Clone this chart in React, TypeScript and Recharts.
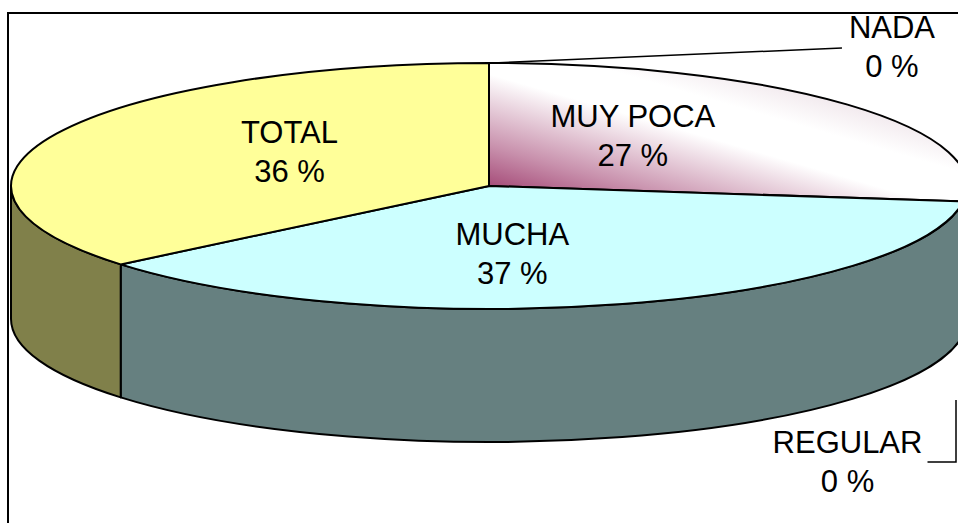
import { PieChart, Pie } from "recharts";

const CATEGORIES = ["NADA", "MUY POCA", "REGULAR", "MUCHA", "TOTAL"];
const VALUES = [0, 27, 0, 37, 36];

const TOP_COLORS = ["#993366", "url(#muyPocaGrad)", "#8080c0", "#ccffff", "#ffff99"];
const SIDE_COLORS = ["#4d1a33", "#6b2347", "#404060", "#668080", "#80804a"];

const W = 958;
const H = 523;
const CX = 489;
const CY = 186;
const RX = 478;
const TILT = 123 / 478; // ry / rx
const DEPTH = 133;
const RAD = Math.PI / 180;
const FONT = "'Liberation Sans', Arial, sans-serif";

const data = CATEGORIES.map((name, i) => ({ name, value: VALUES[i] }));

function colorIndex(props: any) {
  const name = props.payload?.name ?? props.name;
  return Math.max(0, CATEGORIES.indexOf(name));
}

function Slice3D(props: any) {
  const { cx, cy, outerRadius, startAngle, endAngle } = props;
  if (Math.abs(startAngle - endAngle) < 1e-6) return <g />;
  const i = colorIndex(props);
  const rx = outerRadius;
  const ry = outerRadius * TILT;
  const pt = (a: number, dy = 0) => `${cx + rx * Math.cos(a * RAD)},${cy - ry * Math.sin(a * RAD) + dy}`;
  const s = Math.max(startAngle, endAngle);
  const e = Math.min(startAngle, endAngle);
  const large = s - e > 180 ? 1 : 0;
  const top = `M${cx},${cy} L${pt(s)} A${rx},${ry} 0 ${large} 1 ${pt(e)} Z`;

  // front (visible) part of the outer wall lies between 0 and -180 degrees
  const a1 = Math.min(s, 0);
  const a2 = Math.max(e, -180);
  const side =
    a1 > a2
      ? `M${pt(a1)} A${rx},${ry} 0 0 1 ${pt(a2)} L${pt(a2, DEPTH)} A${rx},${ry} 0 0 0 ${pt(a1, DEPTH)} Z`
      : null;

  return (
    <g>
      <defs>
        <linearGradient id="muyPocaGrad" x1="0" y1="1" x2="1" y2="0">
          <stop offset="0" stopColor="#993366" />
          <stop offset="0.2" stopColor="#c890ac" />
          <stop offset="0.46" stopColor="#ffffff" />
          <stop offset="0.6" stopColor="#ffffff" />
          <stop offset="1" stopColor="#d6bcc9" />
        </linearGradient>
      </defs>
      {side && <path d={side} fill={SIDE_COLORS[i]} stroke="#000" strokeWidth={2} strokeLinejoin="round" />}
      <path d={top} fill={TOP_COLORS[i]} stroke="#000" strokeWidth={2} strokeLinejoin="round" />
    </g>
  );
}

function renderLabel(props: any) {
  const { cx, cy, midAngle, outerRadius, value } = props;
  const name = props.payload?.name ?? props.name;
  const rx = outerRadius;
  const ry = outerRadius * TILT;
  const c = Math.cos(midAngle * RAD);
  const s = Math.sin(midAngle * RAD);
  let lx: number;
  let ly: number;
  let leader: string | null = null;
  if (value > 0) {
    lx = cx + 0.52 * rx * c * Math.abs(c) + 4;
    ly = cy - ry * s * (0.75 - 0.19 * Math.abs(s));
  } else if (s > 0) {
    // outside label above the pie
    lx = cx + 0.843 * rx;
    ly = cy - ry - 17;
    const px = cx + rx * c;
    const py = cy - ry * s;
    leader = `M${lx - 50},${ly + 2} L${px + 4},${py}`;
  } else {
    // outside label below the pie
    lx = cx + 0.75 * rx;
    ly = cy + ry + DEPTH + 19;
    const ex = cx + rx - 11;
    leader = `M${lx + 80},${ly + 1} L${ex},${ly + 1} L${ex},${ly - 61}`;
  }
  return (
    <g>
      {leader && <path d={leader} fill="none" stroke="#000" strokeWidth={1.5} />}
      <text x={lx} y={ly - 8} textAnchor="middle" fontFamily={FONT} fontSize={31} fill="#000">
        {name}
      </text>
      <text x={lx} y={ly + 31} textAnchor="middle" fontFamily={FONT} fontSize={31} fill="#000">
        {`${value} %`}
      </text>
    </g>
  );
}

export default function App() {
  return (
    <div style={{ position: "relative", width: W, height: H, overflow: "hidden", background: "#fff" }}>
      <style>{"html,body{margin:0;overflow:hidden;background:#fff}"}</style>
      <div
        style={{
          position: "absolute",
          left: 7,
          top: 12,
          width: 2000,
          height: 2000,
          border: "2px solid #000",
        }}
      />
      <div style={{ position: "absolute", left: 0, top: 0 }}>
        <PieChart width={W} height={H} margin={{ top: 0, right: 0, bottom: 0, left: 0 }}>
          <Pie
            data={data}
            dataKey="value"
            nameKey="name"
            cx={CX}
            cy={CY}
            innerRadius={0}
            outerRadius={RX}
            startAngle={90}
            endAngle={-270}
            stroke="none"
            shape={Slice3D}
            label={renderLabel}
            labelLine={false}
            isAnimationActive={false}
          />
        </PieChart>
      </div>
    </div>
  );
}
